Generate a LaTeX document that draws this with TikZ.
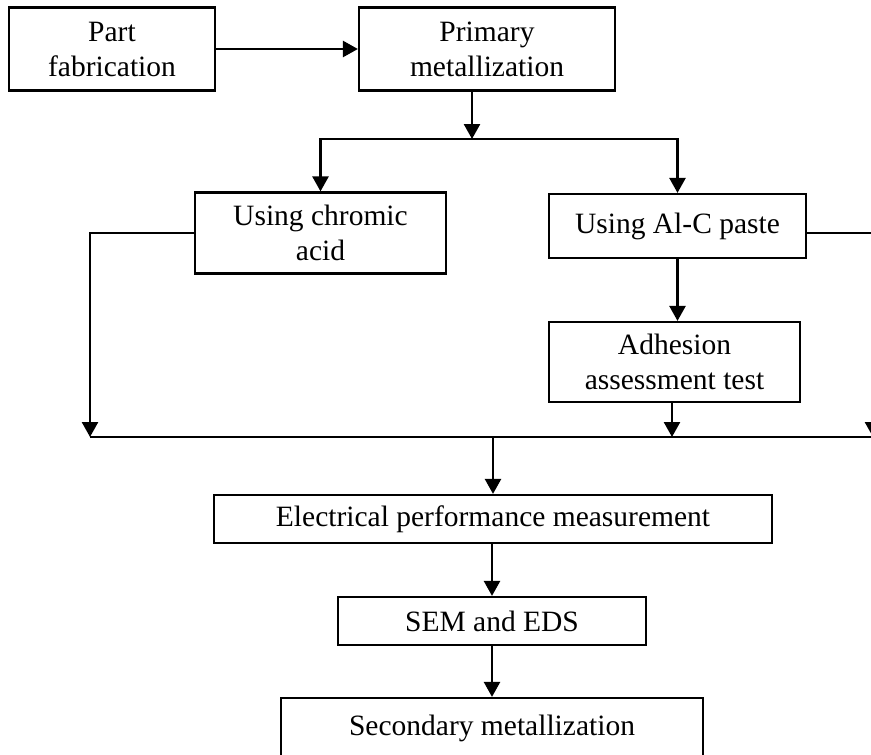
\documentclass[tikz,border=0pt]{standalone}
\usepackage{fontspec}
\setmainfont{Liberation Serif}
\usetikzlibrary{arrows.meta}
\tikzset{
  box/.style={draw, line width=2.2pt, inner sep=0pt, align=center,
    font=\fontsize{29.5}{35}\selectfont},
  conn/.style={line width=2.5pt},
  arr/.style={conn, -{Triangle[length=15pt,width=16pt]}},
}
\begin{document}
\begin{tikzpicture}[x=1pt,y=-1pt]
\useasboundingbox (0,0) rectangle (871,755);
\clip (0,0) rectangle (871,755);
\fill[white] (0,0) rectangle (871,755);

\node[box, minimum width=206pt, minimum height=83pt] (part) at (112,49) {Part\\fabrication};
\node[box, minimum width=256pt, minimum height=83pt] (primary) at (487,49) {Primary\\metallization};
\node[box, minimum width=251pt, minimum height=81pt] (chromic) at (320.5,233) {Using chromic\\acid};
\node[box, minimum width=257pt, minimum height=64pt] (alc) at (677.5,226) {Using Al-C paste};
\node[box, minimum width=251pt, minimum height=80pt] (adh) at (674.5,362) {Adhesion\\assessment test};
\node[box, minimum width=558pt, minimum height=48pt] (elec) at (493,519) {Electrical performance measurement};
\node[box, minimum width=308pt, minimum height=48pt] (sem) at (492,621) {SEM and EDS};
\node[box, minimum width=422pt, minimum height=61pt] (sec) at (492,728.5) {Secondary metallization};

\coordinate (split) at (472,139);
\coordinate (lb) at (90,437);
\coordinate (rb) at (871,437);
\coordinate (rtop) at (873,233);
\coordinate (rbot) at (873,437);

\draw[arr] (part.east) -- (primary.west);
\draw[arr] (primary.south -| split) -- (split);
\draw[arr] (split) -| (chromic.north);
\draw[arr] (split) -| (alc.north);
\draw[arr] (chromic.west) -| (lb);
\draw[conn] (lb) -- (rb);
\draw[arr] (alc.south) -- (adh.north -| alc.south);
\draw[arr] ([xshift=-2.5pt]adh.south) -- ([xshift=-2.5pt]adh.south |- lb);
\draw[arr] (alc.east |- rtop) -- (rtop) -- (rbot);
\draw[arr] (elec.north |- lb) -- (elec.north);
\draw[arr] (elec.south -| sem.north) -- (sem.north);
\draw[arr] (sem.south) -- (sec.north);
\end{tikzpicture}
\end{document}
